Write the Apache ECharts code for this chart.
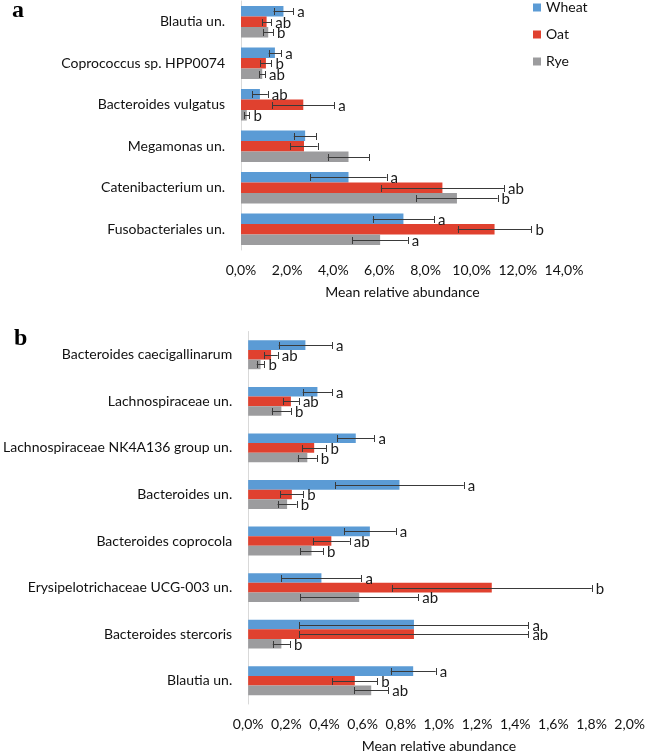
<!DOCTYPE html>
<html>
<head>
<meta charset="utf-8">
<script src="https://cdn.jsdelivr.net/npm/echarts@6/dist/echarts.min.js"></script>
<style>
html,body{margin:0;padding:0;background:#fff;}
#chart{width:648px;height:754px;}
</style>
</head>
<body>
<div id="chart"></div>
<script>
// ---------- Panel a data ----------
const catsA = ['Blautia un.', 'Coprococcus sp. HPP0074', 'Bacteroides vulgatus', 'Megamonas un.', 'Catenibacterium un.', 'Fusobacteriales un.'];
const wheatA = [1.84, 1.47, 0.82, 2.78, 4.66, 7.04];
const wheatA_se = [0.43, 0.27, 0.34, 0.49, 1.65, 1.33];
const oatA = [1.11, 1.08, 2.70, 2.73, 8.73, 10.99];
const oatA_se = [0.20, 0.24, 1.34, 0.59, 2.67, 1.60];
const ryeA = [1.18, 0.92, 0.25, 4.66, 9.36, 6.03];
const ryeA_se = [0.21, 0.12, 0.115, 0.90, 1.76, 1.20];
const wheatA_sig = ['a', 'a', 'ab', '', 'a', 'a'];
const oatA_sig = ['ab', 'b', 'a', '', 'ab', 'b'];
const ryeA_sig = ['b', 'ab', 'b', '', 'b', 'a'];
const ticksA = { min: 0, max: 14, interval: 2 };

// ---------- Panel b data ----------
const catsB = ['Bacteroides caecigallinarum', 'Lachnospiraceae un.', 'Lachnospiraceae NK4A136 group un.', 'Bacteroides un.', 'Bacteroides coprocola', 'Erysipelotrichaceae UCG-003 un.', 'Bacteroides stercoris', 'Blautia un.'];
const wheatB = [0.30, 0.363, 0.564, 0.793, 0.638, 0.384, 0.869, 0.865];
const wheatB_se = [0.14, 0.077, 0.098, 0.337, 0.136, 0.21, 0.60, 0.118];
const oatB = [0.12, 0.224, 0.346, 0.229, 0.436, 1.277, 0.869, 0.559];
const oatB_se = [0.035, 0.042, 0.064, 0.06, 0.097, 0.524, 0.60, 0.118];
const ryeB = [0.065, 0.174, 0.310, 0.204, 0.332, 0.582, 0.174, 0.645];
const ryeB_se = [0.02, 0.05, 0.05, 0.05, 0.06, 0.31, 0.045, 0.089];
const wheatB_sig = ['a', 'a', 'a', 'a', 'a', 'a', 'a', 'a'];
const oatB_sig = ['ab', 'ab', 'b', 'b', 'ab', 'b', 'ab', 'b'];
const ryeB_sig = ['b', 'b', 'b', 'b', 'b', 'ab', 'b', 'ab'];
const ticksB = { min: 0, max: 2, interval: 0.2 };

const seriesNames = ['Wheat', 'Oat', 'Rye'];
const colors = ['#5B9BD5', '#E0412F', '#9C9C9E'];
const FONT = 'Lato';

const gapA = 0.24, gapB = 0.38;

function pctFmt(v) { return v.toFixed(1).replace('.', ',') + '%'; }

function errData(vals, ses, sigs) {
  const out = [];
  for (let s = 0; s < 3; s++) {
    for (let i = 0; i < vals[s].length; i++) {
      out.push({ value: [i, s, vals[s][i], ses[s][i]], sig: sigs[s][i] });
    }
  }
  return out;
}

function makeRender(gap, items) {
  return function (params, api) {
    const cat = api.value(0), s = api.value(1), v = api.value(2), se = api.value(3);
    const c = api.coord([0, cat]);
    const band = api.size([0, 1])[1];
    const w = band * (1 - gap) / 3;
    const y = Math.round(c[1] + (s - 1) * w) + 0.5;
    const xl = api.coord([v - se, cat])[0];
    const xr = api.coord([v + se, cat])[0];
    const cap = 3.5;
    const st = { stroke: '#3a3a3a', lineWidth: 1 };
    const children = [
      { type: 'line', shape: { x1: xl, y1: y, x2: xr, y2: y }, style: st },
      { type: 'line', shape: { x1: Math.round(xl) + 0.5, y1: y - cap, x2: Math.round(xl) + 0.5, y2: y + cap }, style: st },
      { type: 'line', shape: { x1: Math.round(xr) + 0.5, y1: y - cap, x2: Math.round(xr) + 0.5, y2: y + cap }, style: st }
    ];
    const sig = items[params.dataIndex].sig;
    if (sig) {
      children.push({
        type: 'text',
        style: { text: sig, x: xr + 4, y: y + 1, fill: '#1a1a1a', font: '15px ' + FONT, verticalAlign: 'middle', align: 'left' }
      });
    }
    return { type: 'group', children: children };
  };
}

const errA = errData([wheatA, oatA, ryeA], [wheatA_se, oatA_se, ryeA_se], [wheatA_sig, oatA_sig, ryeA_sig]);
const errB = errData([wheatB, oatB, ryeB], [wheatB_se, oatB_se, ryeB_se], [wheatB_sig, oatB_sig, ryeB_sig]);

function xAxisCfg(grid, t) {
  return {
    type: 'value', gridIndex: grid, min: t.min, max: t.max, interval: t.interval,
    axisLine: { show: false }, axisTick: { show: false }, splitLine: { show: false },
    axisLabel: { formatter: pctFmt, color: '#111', fontFamily: FONT, fontSize: 14, margin: 13 },
    name: 'Mean relative abundance', nameLocation: 'middle', nameGap: 35,
    nameTextStyle: { color: '#111', fontFamily: FONT, fontSize: 14 }
  };
}
function yAxisCfg(grid, cats) {
  return {
    type: 'category', gridIndex: grid, data: cats, inverse: true,
    axisLine: { show: true, lineStyle: { color: '#D9D9D9', width: 1 } },
    axisTick: { show: false },
    axisLabel: { interval: 0, color: '#111', fontFamily: FONT, fontSize: 14, margin: 16 }
  };
}

const barSeries = [];
[[wheatA, oatA, ryeA], [wheatB, oatB, ryeB]].forEach(function (set, g) {
  set.forEach(function (vals, s) {
    barSeries.push({
      name: seriesNames[s], type: 'bar', xAxisIndex: g, yAxisIndex: g,
      data: vals, barGap: '0%', barCategoryGap: (g === 0 ? gapA : gapB) * 100 + '%',
      itemStyle: { color: colors[s] }, silent: true
    });
  });
});

const chart = echarts.init(document.getElementById('chart'), null, { renderer: 'canvas' });
chart.setOption({
  animation: false,
  backgroundColor: '#ffffff',
  legend: {
    data: seriesNames, orient: 'vertical', left: 528, top: -6,
    icon: 'rect', itemWidth: 8, itemHeight: 8, itemGap: 10,
    textStyle: { fontFamily: FONT, fontSize: 14, color: '#111', lineHeight: 17 }
  },
  grid: [
    { left: 241, width: 323, top: 1, height: 249 },
    { left: 245.5, width: 388, top: 331.5, height: 375 }
  ],
  xAxis: [xAxisCfg(0, ticksA), xAxisCfg(1, ticksB)],
  yAxis: [yAxisCfg(0, catsA), yAxisCfg(1, catsB)],
  graphic: [
    { type: 'text', left: 12, top: -1, style: { text: 'a', font: 'bold 24px "Liberation Serif"', fill: '#000' } },
    { type: 'text', left: 14, top: 327, style: { text: 'b', font: 'bold 24px "Liberation Serif"', fill: '#000' } }
  ],
  series: barSeries.concat([
    { type: 'custom', name: 'errA', xAxisIndex: 0, yAxisIndex: 0, renderItem: makeRender(gapA, errA), data: errA, encode: { x: 2, y: 0 }, z: 5, silent: true },
    { type: 'custom', name: 'errB', xAxisIndex: 1, yAxisIndex: 1, renderItem: makeRender(gapB, errB), data: errB, encode: { x: 2, y: 0 }, z: 5, silent: true }
  ])
});
</script>
</body>
</html>
